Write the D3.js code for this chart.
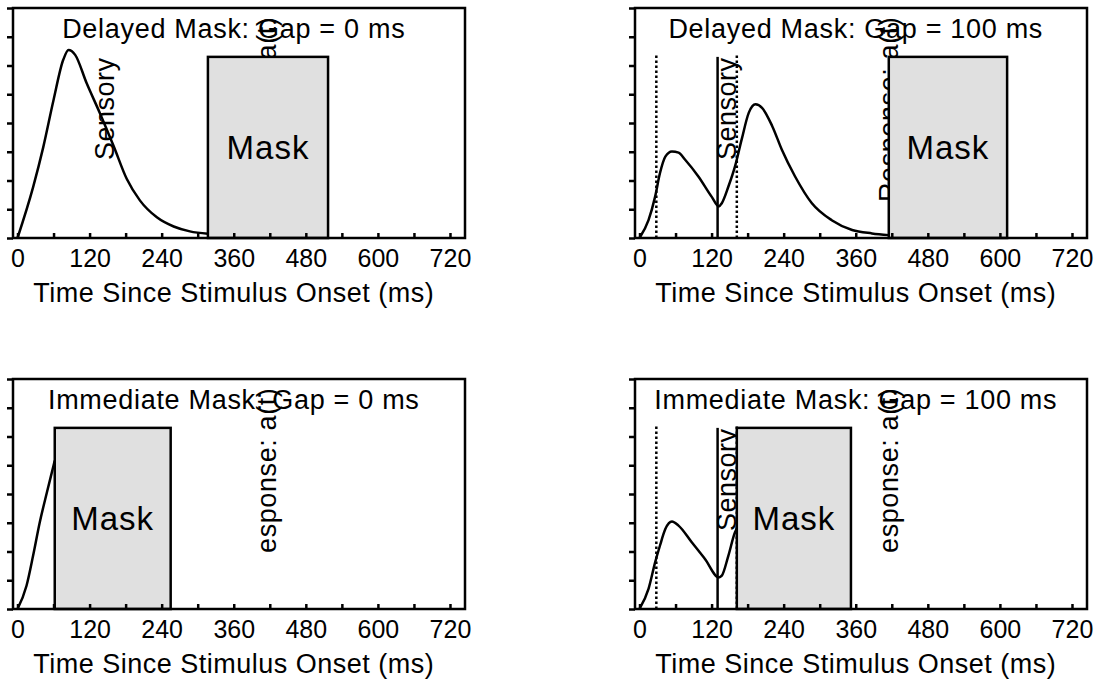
<!DOCTYPE html>
<html>
<head>
<meta charset="utf-8">
<script src="https://cdn.jsdelivr.net/npm/d3@7"></script>
<style>
    body { margin: 0; background: #fff; }
    svg { display: block; }
</style>
</head>
<body>
<div id="chart"></div>
<script>
// DATA
// ================================================================================== //
const titles = [
    "Delayed Mask: Gap = 0 ms",
    "Delayed Mask: Gap = 100 ms",
    "Immediate Mask: Gap = 0 ms",
    "Immediate Mask: Gap = 100 ms"
];
const maskOnset = [317, 415, 62, 162];
const maskOffset = [517, 612, 255, 352];
const maskTop = 6.3;
const solidLines = [[], [130], [], [130]];
const dottedLines = [[], [28, 162], [], [28, 162]];

// response curves (ms, arbitrary units)
const curveTimes = [
    [0, 26, 43, 60, 76, 85, 96, 115, 137, 160, 182, 204, 232, 260, 287, 317],
    [0, 15, 26, 34, 43, 54, 65, 76, 98, 120, 132, 137, 148, 159, 170, 182, 193, 204, 221, 237, 259, 287, 320, 354, 387, 415],
    [0, 15, 26, 37, 49, 60, 62],
    [0, 15, 26, 34, 43, 54, 65, 87, 109, 132, 137, 148, 159, 162]
];
const curveValues = [
    [0, 1.77, 3.17, 4.8, 6.19, 6.54, 6.37, 5.39, 4.35, 3.2, 2.05, 1.3, 0.72, 0.4, 0.23, 0.15],
    [0, 0.62, 1.44, 2.25, 2.83, 3.01, 2.97, 2.72, 2.14, 1.44, 1.1, 1.21, 1.79, 2.49, 3.42, 4.36, 4.65, 4.53, 3.89, 3.07, 2.14, 1.21, 0.62, 0.28, 0.16, 0.1],
    [0, 0.81, 1.86, 3.01, 4.06, 4.99, 5.16],
    [0, 0.7, 1.62, 2.2, 2.78, 3.04, 2.9, 2.32, 1.74, 1.1, 1.16, 1.86, 2.67, 2.8]
];

// vertical labels
const sensoryLabel = { text: "Sensory", t: 160, v: 2.71 };
const responseLabel = { text: "Response: a(t)", t: 430, v: 1.25 };
const responseHiddenBelow = [null, null, 1.95, 1.95];

// ticks
const xTickMarks = [0, 60, 120, 180, 240, 300, 360, 420, 480, 540, 600, 660, 720];
const xTickLabels = [0, 120, 240, 360, 480, 600, 720];
const yTickMarks = [0, 1, 2, 3, 4, 5, 6, 7, 8];
const xAxisTitle = "Time Since Stimulus Onset (ms)";

// LAYOUT
// ================================================================================== //
const width = 1095;
const height = 681;
const panelX = [13, 635, 13, 635];
const panelY = [8, 8, 379, 379];
const pw = 452;
const ph = 230;
const font = "'Liberation Sans', Arial, Helvetica, sans-serif";

const x = d3.scaleLinear().domain([-7.5, 745]).range([0, pw]);
const y = d3.scaleLinear().domain([0, 8]).range([ph, 0]);

const line = d3.line()
    .x(d => x(d.t))
    .y(d => y(d.v))
    .curve(d3.curveMonotoneX);

const svg = d3.select("#chart")
    .append("svg")
    .attr("width", width)
    .attr("height", height)
    .attr("font-family", font);

titles.forEach((title, i) => {
    const g = svg.append("g")
        .attr("transform", `translate(${panelX[i]},${panelY[i]})`);

    // curve
    const pts = curveTimes[i].map((t, j) => ({ t: t, v: curveValues[i][j] }));
    g.append("path")
        .datum(pts)
        .attr("d", line)
        .attr("fill", "none")
        .attr("stroke", "#000")
        .attr("stroke-width", 2.5);

    // vertical markers
    g.selectAll(".solid")
        .data(solidLines[i])
        .enter()
        .append("line")
        .attr("x1", d => x(d)).attr("x2", d => x(d))
        .attr("y1", y(0)).attr("y2", y(maskTop))
        .attr("stroke", "#000")
        .attr("stroke-width", 2.5);

    g.selectAll(".dotted")
        .data(dottedLines[i])
        .enter()
        .append("line")
        .attr("x1", d => x(d)).attr("x2", d => x(d))
        .attr("y1", y(0)).attr("y2", y(maskTop + 0.1))
        .attr("stroke", "#000")
        .attr("stroke-width", 2.5)
        .attr("stroke-dasharray", "2.5,2.5");

    // rotated labels
    g.append("text")
        .attr("transform", `translate(${x(sensoryLabel.t)},${y(sensoryLabel.v)}) rotate(-90)`)
        .attr("font-size", 27)
        .attr("letter-spacing", 0.5)
        .text(sensoryLabel.text);

    const resp = g.append("text")
        .attr("transform", `translate(${x(responseLabel.t)},${y(responseLabel.v)}) rotate(-90)`)
        .attr("font-size", 27)
        .attr("letter-spacing", 0.6)
        .text(responseLabel.text);

    if (responseHiddenBelow[i] !== null) {
        const clipId = "respClip" + i;
        g.append("clipPath")
            .attr("id", clipId)
            .append("rect")
            .attr("x", 0)
            .attr("y", y(8))
            .attr("width", pw)
            .attr("height", y(responseHiddenBelow[i]) - y(8));
        const wrap = g.append("g").attr("clip-path", `url(#${clipId})`);
        wrap.node().appendChild(resp.node());
    }

    // mask box
    g.append("rect")
        .attr("x", x(maskOnset[i]))
        .attr("y", y(maskTop))
        .attr("width", x(maskOffset[i]) - x(maskOnset[i]))
        .attr("height", y(0) - y(maskTop))
        .attr("fill", "#e0e0e0")
        .attr("stroke", "#000")
        .attr("stroke-width", 2.5);

    g.append("text")
        .attr("x", x((maskOnset[i] + maskOffset[i]) / 2))
        .attr("y", y(maskTop / 2))
        .attr("text-anchor", "middle")
        .attr("dominant-baseline", "central")
        .attr("font-size", 33)
        .attr("letter-spacing", 1)
        .text("Mask");

    // title
    g.append("text")
        .attr("x", x(360))
        .attr("y", y(6.95))
        .attr("text-anchor", "middle")
        .attr("font-size", 27)
        .attr("letter-spacing", 0.7)
        .text(title);

    // frame
    g.append("rect")
        .attr("x", 0).attr("y", 0)
        .attr("width", pw).attr("height", ph)
        .attr("fill", "none")
        .attr("stroke", "#000")
        .attr("stroke-width", 2.5);

    // axes
    g.append("g")
        .attr("transform", `translate(0,${ph})`)
        .call(d3.axisBottom(x).tickValues(xTickMarks).tickSize(-5).tickFormat(""))
        .call(a => a.select(".domain").remove())
        .call(a => a.selectAll(".tick line").attr("stroke-width", 2.5));

    g.append("g")
        .attr("transform", `translate(0,${ph})`)
        .call(d3.axisBottom(x).tickValues(xTickLabels).tickSize(0).tickPadding(11))
        .call(a => a.select(".domain").remove())
        .call(a => a.selectAll("text")
            .attr("font-size", 25)
            .attr("font-family", font)
            .attr("fill", "#000"));

    g.append("g")
        .call(d3.axisLeft(y).tickValues(yTickMarks).tickSize(6).tickFormat(""))
        .call(a => a.select(".domain").remove())
        .call(a => a.selectAll(".tick line").attr("stroke-width", 2.5));

    g.append("text")
        .attr("x", x(360))
        .attr("y", ph + 64)
        .attr("text-anchor", "middle")
        .attr("font-size", 27)
        .attr("letter-spacing", 0.5)
        .text(xAxisTitle);
});
</script>
</body>
</html>
